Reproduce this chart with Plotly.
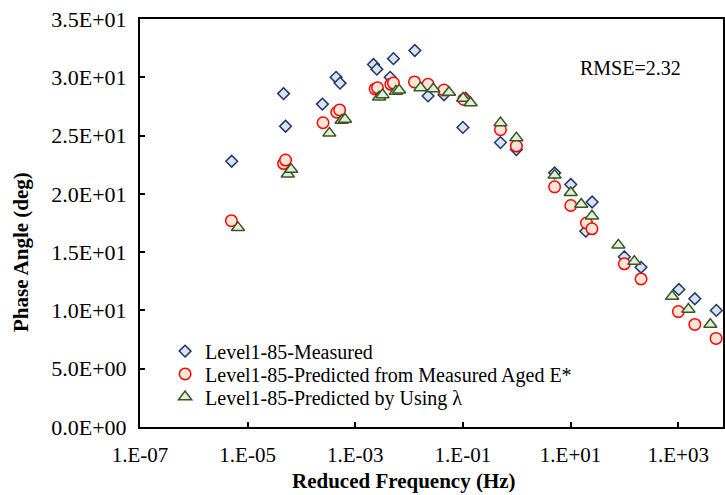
import plotly.graph_objects as go

# Reduced frequency (Hz) and phase angle (deg) for each series
measured_freq = [5.06e-6, 4.65e-5, 5.06e-5, 2.45e-4, 4.40e-4, 5.21e-4, 2.18e-3, 2.52e-3,
                 4.45e-3, 5.12e-3, 1.28e-2, 2.25e-2, 4.45e-2, 0.112, 0.100, 0.499, 0.986,
                 5.06, 10.1, 25.2, 19.2, 100, 204, 1030, 2040, 5120]
measured_phase = [22.8, 28.6, 25.8, 27.7, 30.0, 29.5, 31.1, 30.7, 30.0, 31.6, 32.3, 28.4,
                  28.5, 28.2, 25.7, 24.4, 23.8, 21.8, 20.8, 19.3, 16.8, 14.6, 13.7, 11.8,
                  11.0, 10.0]

pred_e_freq = [4.99e-6, 4.65e-5, 5.06e-5, 2.52e-4, 4.54e-4, 5.12e-4, 2.34e-3, 2.59e-3,
               4.58e-3, 5.12e-3, 1.26e-2, 2.25e-2, 4.45e-2, 0.104, 0.499, 0.986, 5.06,
               10.1, 19.8, 25.0, 100, 204, 1010, 2040, 5060]
pred_e_phase = [17.7, 22.6, 22.9, 26.1, 27.0, 27.2, 29.0, 29.1, 29.4, 29.5, 29.6, 29.4,
                28.9, 28.1, 25.5, 24.1, 20.6, 19.0, 17.5, 17.0, 14.0, 12.7, 9.9, 8.8, 7.6]

pred_l_freq = [6.61e-6, 5.57e-5, 6.44e-5, 3.30e-4, 5.57e-4, 6.44e-4, 2.78e-3, 3.21e-3,
               5.68e-3, 6.53e-3, 1.63e-2, 2.82e-2, 5.51e-2, 0.101, 0.139, 0.499, 0.986,
               5.06, 10.1, 15.8, 25.0, 77.4, 153, 774, 1550, 3960]
pred_l_phase = [17.1, 21.7, 22.1, 25.2, 26.3, 26.4, 28.3, 28.5, 28.8, 28.9, 29.1, 29.0,
                28.7, 28.2, 27.8, 26.1, 24.8, 21.6, 20.1, 19.1, 18.1, 15.6, 14.2, 11.2,
                10.1, 8.8]

series_names = ["Level1-85-Measured",
                "Level1-85-Predicted from Measured Aged E*",
                "Level1-85-Predicted by Using λ"]

x_tickvals = [1e-7, 1e-5, 1e-3, 1e-1, 1e1, 1e3]
x_ticktext = ["1.E-07", "1.E-05", "1.E-03", "1.E-01", "1.E+01", "1.E+03"]
y_tickvals = [0, 5, 10, 15, 20, 25, 30, 35]
y_ticktext = ["0.0E+00", "5.0E+00", "1.0E+01", "1.5E+01", "2.0E+01", "2.5E+01",
              "3.0E+01", "3.5E+01"]
x_title = "Reduced Frequency (Hz)"
y_title = "Phase Angle (deg)"
rmse_text = "RMSE=2.32"

FONT = "Liberation Serif"
X_TICK_SIZE = 21
Y_TICK_SIZE = 22
TITLE_SIZE = 21
LEGEND_SIZE = 20

fig = go.Figure()
fig.add_trace(go.Scatter(
    x=measured_freq, y=measured_phase, mode="markers", name=series_names[0],
    legend="legend",
    marker=dict(symbol="diamond", size=9, color="#DAE3F3",
                line=dict(color="#1F3864", width=1.5)),
))
fig.add_trace(go.Scatter(
    x=pred_e_freq, y=pred_e_phase, mode="markers", name=series_names[1],
    legend="legend2",
    marker=dict(symbol="circle", size=11.5, color="#FBE5D6",
                line=dict(color="#FF0000", width=1.5)),
))
fig.add_trace(go.Scatter(
    x=pred_l_freq, y=pred_l_phase, mode="markers", name=series_names[2],
    legend="legend3",
    marker=dict(symbol="triangle-up", size=11.5, color="#E2F0D9",
                line=dict(color="#385723", width=1.5)),
))

# RMSE note and axis titles
fig.add_annotation(
    text=rmse_text, xref="paper", yref="paper", x=0.841, y=0.88,
    xanchor="center", yanchor="middle", showarrow=False,
    font=dict(family=FONT, size=20, color="black"),
)
fig.add_annotation(
    text="<b>" + x_title + "</b>", xref="paper", yref="paper", x=0.453, y=-0.132,
    xanchor="center", yanchor="middle", showarrow=False,
    font=dict(family=FONT, size=TITLE_SIZE, color="black"),
)
fig.add_annotation(
    text="<b>" + y_title + "</b>", xref="paper", yref="paper", x=-0.205, y=0.43,
    xanchor="center", yanchor="middle", textangle=-90, showarrow=False,
    font=dict(family=FONT, size=TITLE_SIZE, color="black"),
)

legend_style = dict(xanchor="left", yanchor="middle", bgcolor="rgba(0,0,0,0)",
                    font=dict(family=FONT, size=LEGEND_SIZE, color="black"),
                    itemwidth=30, borderwidth=0)
fig.update_layout(
    width=725, height=495,
    margin=dict(l=140, r=0, t=19, b=68),
    paper_bgcolor="white", plot_bgcolor="white",
    font=dict(family=FONT, size=X_TICK_SIZE, color="black"),
    showlegend=True,
    legend=dict(x=0.043, y=0.186, **legend_style),
    legend2=dict(x=0.043, y=0.130, **legend_style),
    legend3=dict(x=0.043, y=0.074, **legend_style),
)
fig.update_xaxes(
    type="log", range=[-7, 3.833],
    tickvals=x_tickvals, ticktext=x_ticktext,
    ticks="inside", ticklen=5, tickwidth=1.5, tickcolor="black",
    ticklabelstandoff=8,
    showline=True, linecolor="black", linewidth=2, mirror=True,
    showgrid=False, zeroline=False,
    tickfont=dict(family=FONT, size=X_TICK_SIZE),
)
fig.update_yaxes(
    range=[0, 35],
    tickvals=y_tickvals, ticktext=y_ticktext,
    ticks="inside", ticklen=5, tickwidth=1.5, tickcolor="black",
    ticklabelstandoff=7,
    showline=True, linecolor="black", linewidth=2, mirror=True,
    showgrid=False, zeroline=False,
    tickfont=dict(family=FONT, size=Y_TICK_SIZE),
)

fig.write_html("out.html")
